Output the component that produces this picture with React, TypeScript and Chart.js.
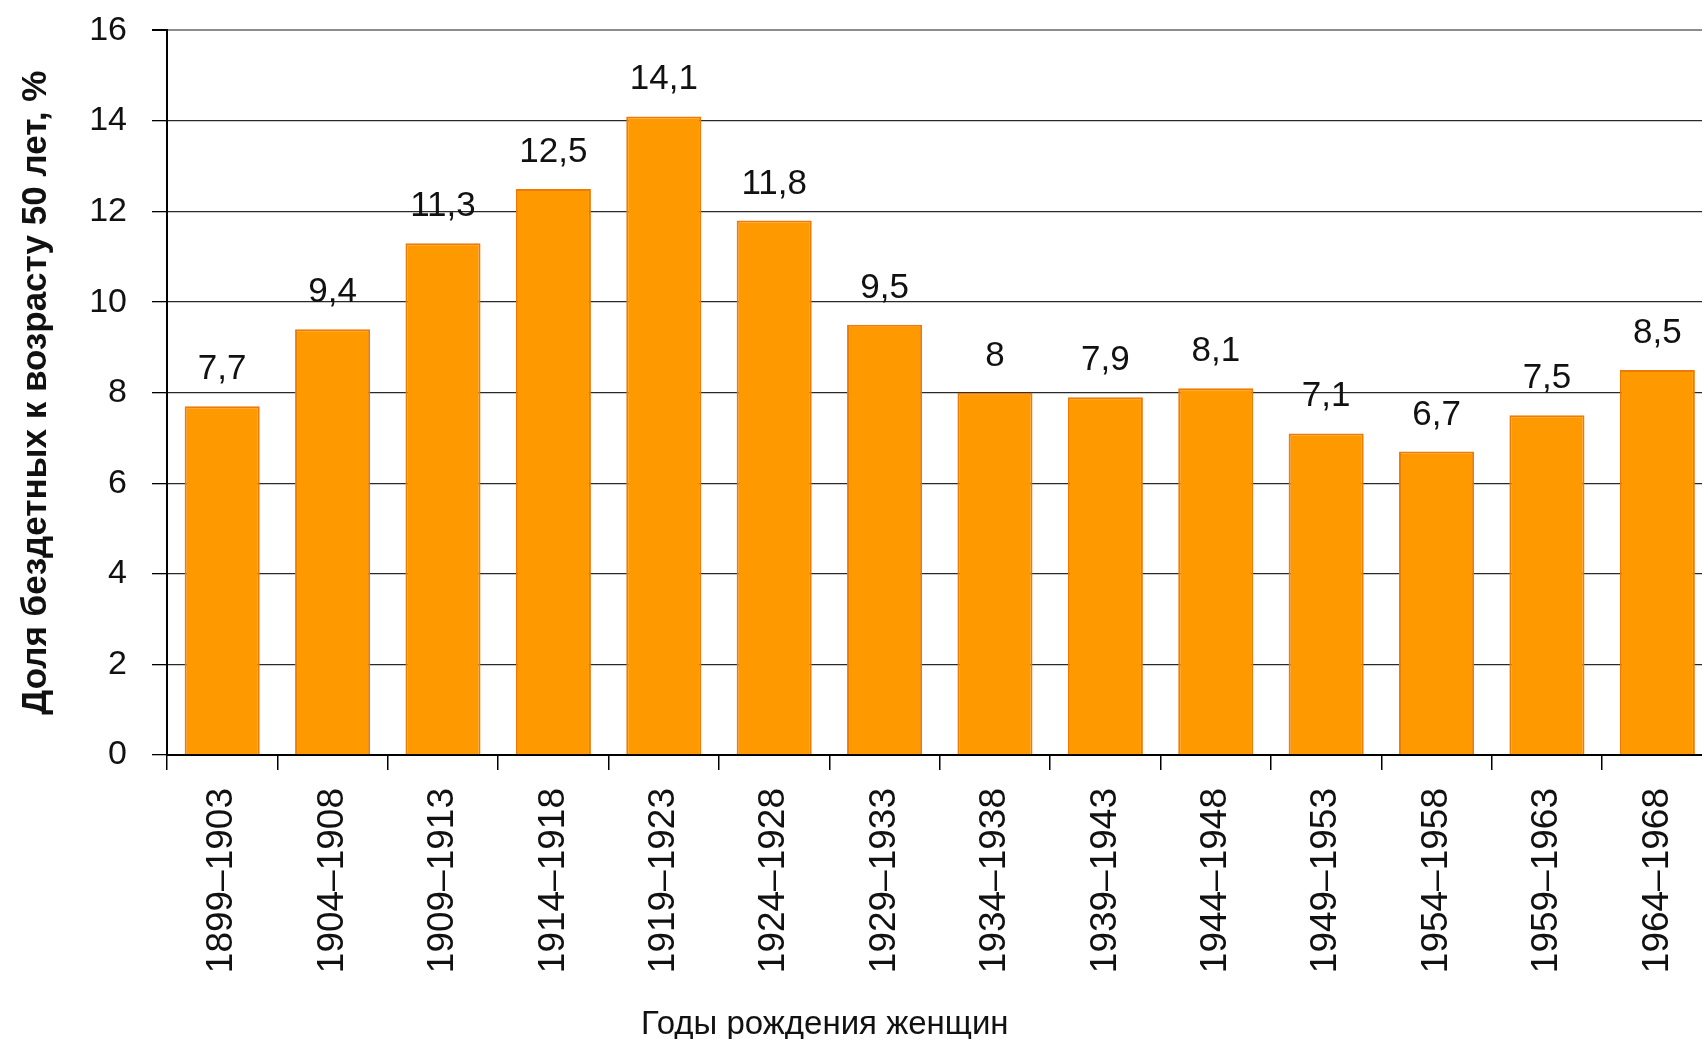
import React, { useEffect, useRef } from "react";
import { Chart, registerables } from "chart.js";

Chart.register(...registerables);

const categories = [
  "1899–1903", "1904–1908", "1909–1913", "1914–1918", "1919–1923",
  "1924–1928", "1929–1933", "1934–1938", "1939–1943", "1944–1948",
  "1949–1953", "1954–1958", "1959–1963", "1964–1968",
];
const values = [7.7, 9.4, 11.3, 12.5, 14.1, 11.8, 9.5, 8, 7.9, 8.1, 7.1, 6.7, 7.5, 8.5];
const yTicks = [0, 2, 4, 6, 8, 10, 12, 14, 16];
const yTitle = "Доля бездетных к возрасту 50 лет, %";
const xTitle = "Годы рождения женщин";

const FONT = "'Liberation Sans', Arial, sans-serif";

const SHIFT = 15;
const W = 1720;
const H = 1039 + SHIFT;

const valueLabels = {
  id: "valueLabels",
  afterDatasetsDraw(chart: any) {
    const ctx = chart.ctx;
    const meta = chart.getDatasetMeta(0);
    ctx.save();
    ctx.font = `35px ${FONT}`;
    ctx.fillStyle = "#111";
    ctx.textAlign = "center";
    ctx.textBaseline = "alphabetic";
    meta.data.forEach((el: any, i: number) => {
      const txt = String(values[i]).replace(".", ",");
      ctx.fillText(txt, el.x, el.y - 27);
    });
    ctx.restore();
  },
};

const bottomTitle = {
  id: "bottomTitle",
  afterDraw(chart: any) {
    const ctx = chart.ctx;
    const area = chart.chartArea;
    ctx.save();
    ctx.font = `33px ${FONT}`;
    ctx.fillStyle = "#111";
    ctx.textAlign = "center";
    ctx.textBaseline = "alphabetic";
    const x = area.left + (area.right - area.left) * 0.4256;
    ctx.fillText(xTitle, x, H - 5);
    ctx.restore();
  },
};

export default function App() {
  const ref = useRef<HTMLCanvasElement>(null);

  useEffect(() => {
    if (!ref.current) return;
    const chart = new Chart(ref.current, {
      type: "bar",
      data: {
        labels: categories,
        datasets: [
          {
            data: values,
            backgroundColor: "#FF9900",
            borderColor: "#EE7A08",
            borderWidth: 2,
            categoryPercentage: 1,
            barPercentage: 0.68,
          },
        ],
      },
      options: {
        responsive: false,
        animation: false,
        devicePixelRatio: 1,
        layout: { padding: { top: 16, right: 7, bottom: 0, left: 0 } },
        plugins: {
          legend: { display: false },
          tooltip: { enabled: false },
          title: { display: false },
        },
        scales: {
          x: {
            offset: true,
            grid: {
              offset: true,
              drawOnChartArea: false,
              drawTicks: true,
              tickLength: 15,
              color: "#000",
              lineWidth: 1.5,
            },
            border: { display: true, color: "#000", width: 2 },
            ticks: {
              minRotation: 90,
              maxRotation: 90,
              autoSkip: false,
              padding: 18,
              color: "#111",
              font: { family: FONT, size: 37 },
            },
            afterFit(s: any) {
              s.height = 284;
            },
          },
          y: {
            min: 0,
            max: 16,
            afterBuildTicks(s: any) {
              s.ticks = yTicks.map((v) => ({ value: v }));
            },
            grid: {
              drawOnChartArea: true,
              drawTicks: true,
              tickLength: 15,
              color: (c: any) => (c.tick && c.tick.value === 16 ? "#8c8c8c" : "#2a2a2a"),
              lineWidth: (c: any) => (c.tick && c.tick.value === 16 ? 2 : 1.3),
              tickColor: "#000",
            },
            border: { display: true, color: "#000", width: 2 },
            ticks: {
              padding: 25,
              color: "#111",
              font: { family: FONT, size: 34 },
            },
            title: {
              display: true,
              text: yTitle,
              color: "#111",
              font: { family: FONT, size: 35, weight: "bold" },
              padding: { top: 15, bottom: 0 },
            },
            afterFit(s: any) {
              s.width = 167;
            },
          },
        },
      },
      plugins: [valueLabels, bottomTitle],
    });
    return () => chart.destroy();
  }, []);

  return (
    <div
      style={{
        position: "fixed",
        left: 0,
        top: 0,
        width: 1702,
        height: 1039,
        overflow: "hidden",
        background: "#fff",
      }}
    >
      <canvas
        ref={ref}
        width={W}
        height={H}
        style={{ width: W, height: H, display: "block", position: "absolute", left: 0, top: -SHIFT }}
      />
    </div>
  );
}
